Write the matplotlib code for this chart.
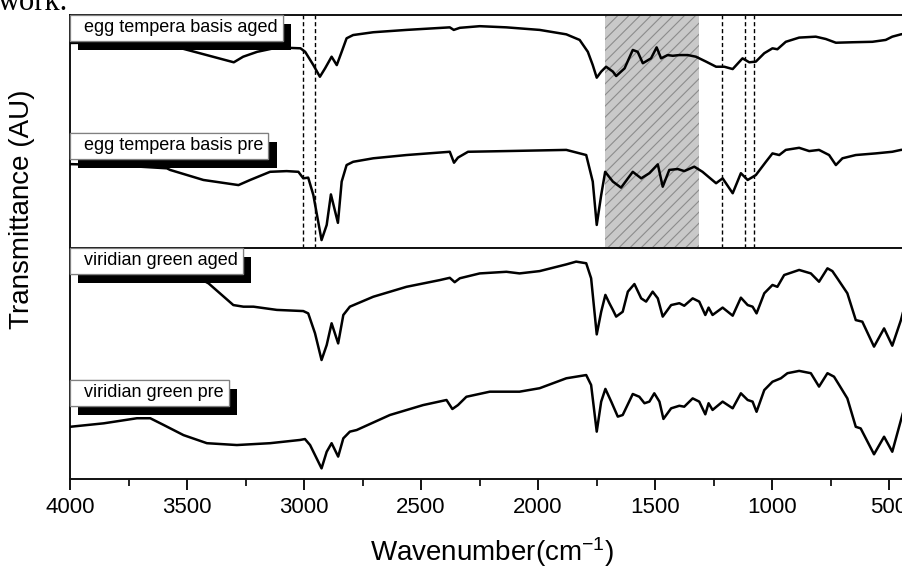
import matplotlib
matplotlib.use('Agg')
import matplotlib.pyplot as plt
from matplotlib import patheffects as pe
from matplotlib.ticker import MultipleLocator

plt.rcParams['font.family'] = ['Liberation Sans', 'DejaVu Sans']
plt.rcParams['mathtext.fontset'] = 'custom'
plt.rcParams['mathtext.rm'] = 'Liberation Sans'
plt.rcParams['mathtext.it'] = 'Liberation Sans'
plt.rcParams['hatch.linewidth'] = 0.8

# ---------------- data ----------------
egg_aged_wn = [4000, 3750, 3550, 3300, 3260, 3200, 3130, 3090, 3015, 2995, 2960, 2932, 2910, 2882,
               2860, 2839, 2818, 2790, 2704, 2562, 2377, 2360, 2334, 2249, 2135, 1993, 1879, 1822,
               1787, 1766, 1749, 1730, 1709, 1680, 1666, 1630, 1595, 1574, 1552, 1517, 1493, 1474,
               1446, 1424, 1396, 1360, 1325, 1282, 1239, 1204, 1168, 1126, 1097, 1069, 1033, 998,
               977, 941, 884, 813, 770, 727, 657, 571, 514, 486, 449, 400]
egg_aged_t = [88.0, 88.3, 86.4, 79.7, 82.1, 84.2, 85.7, 86.0, 85.7, 84.2, 78.5, 73.5, 77.1, 82.1,
              78.5, 84.2, 90.0, 91.4, 92.6, 93.6, 94.7, 93.6, 94.5, 95.2, 94.7, 93.6, 91.7, 89.3,
              84.2, 78.5, 73.1, 75.7, 77.8, 75.7, 73.8, 77.1, 85.0, 84.2, 79.3, 81.4, 86.1, 81.4,
              82.8, 82.5, 82.8, 82.8, 82.1, 80.0, 77.8, 77.8, 76.8, 81.4, 79.7, 80.0, 83.6, 85.7,
              85.3, 88.5, 90.3, 90.7, 89.7, 88.1, 88.3, 88.5, 89.3, 90.7, 91.7, 92.5]

egg_pre_wn = [4000, 3800, 3586, 3572, 3430, 3280, 3230, 3145, 3074, 3024, 3003, 2982, 2960, 2925,
              2903, 2885, 2855, 2839, 2818, 2790, 2704, 2562, 2377, 2359, 2342, 2299, 2135, 1879,
              1794, 1766, 1749, 1730, 1713, 1680, 1645, 1595, 1559, 1524, 1488, 1467, 1439, 1403,
              1375, 1332, 1297, 1239, 1211, 1168, 1133, 1104, 1069, 1026, 998, 969, 941, 884,
              841, 799, 756, 727, 699, 642, 557, 486, 449, 400]
egg_pre_t = [36.0, 35.5, 34.2, 33.5, 29.2, 27.0, 29.2, 32.7, 33.0, 32.7, 29.9, 30.2, 22.7, 3.4,
             9.9, 23.0, 10.8, 28.5, 35.6, 37.0, 38.5, 39.9, 41.3, 36.6, 38.8, 41.3, 41.6, 42.1,
             39.9, 28.5, 9.9, 22.7, 32.7, 28.5, 25.9, 32.7, 29.9, 32.1, 35.9, 26.3, 33.5, 33.9,
             33.0, 34.9, 32.7, 27.8, 29.9, 23.5, 32.1, 29.2, 31.3, 37.0, 40.6, 39.9, 42.1, 43.0,
             41.6, 42.1, 39.9, 35.6, 38.5, 39.9, 40.6, 41.3, 42.1, 42.5]

vir_aged_wn = [4000, 3700, 3560, 3408, 3302, 3259, 3216, 3116, 3003, 2982, 2953, 2925, 2903, 2882,
               2854, 2832, 2804, 2704, 2562, 2420, 2377, 2356, 2334, 2249, 2135, 2079, 1993, 1879,
               1837, 1794, 1773, 1749, 1730, 1712, 1695, 1680, 1666, 1638, 1616, 1588, 1559, 1538,
               1510, 1488, 1467, 1431, 1396, 1375, 1339, 1311, 1285, 1271, 1254, 1211, 1168, 1133,
               1104, 1083, 1066, 1033, 998, 977, 948, 884, 834, 799, 763, 742, 721, 678, 642, 614,
               564, 521, 486, 449, 420]
vir_aged_t = [96.0, 95.0, 93.0, 84.7, 75.3, 74.6, 74.6, 73.2, 72.7, 71.7, 63.1, 51.5, 58.0, 67.4,
              58.7, 71.0, 74.6, 78.9, 83.2, 86.1, 87.1, 85.2, 86.9, 89.0, 89.7, 89.0, 90.0, 92.9,
              94.1, 93.4, 86.9, 62.6, 72.4, 79.7, 76.1, 73.2, 70.3, 72.4, 81.1, 84.4, 78.2, 76.8,
              81.1, 78.2, 70.3, 75.3, 76.1, 75.0, 78.2, 76.8, 71.0, 74.2, 71.0, 74.2, 70.7, 78.5,
              75.3, 74.6, 71.7, 80.4, 84.0, 83.2, 88.3, 90.5, 89.0, 85.4, 91.2, 90.0, 86.9, 80.4,
              68.8, 68.1, 57.3, 65.2, 57.7, 68.8, 80.0]

vir_pre_wn = [4000, 3856, 3714, 3657, 3600, 3515, 3415, 3287, 3145, 3017, 2996, 2974, 2925, 2903,
              2882, 2854, 2832, 2804, 2775, 2633, 2491, 2391, 2366, 2342, 2306, 2206, 2079, 1993,
              1879, 1794, 1773, 1749, 1730, 1712, 1687, 1659, 1638, 1595, 1567, 1545, 1524, 1503,
              1481, 1464, 1431, 1396, 1375, 1339, 1311, 1285, 1271, 1254, 1211, 1168, 1133, 1104,
              1083, 1066, 1033, 998, 962, 934, 884, 834, 799, 763, 735, 713, 678, 642, 621, 564,
              521, 486, 449, 420]
vir_pre_t = [22.6, 24.1, 26.3, 26.3, 23.4, 19.0, 15.5, 14.7, 15.5, 16.9, 17.3, 14.7, 4.6, 11.8,
             15.5, 9.7, 17.6, 20.5, 21.2, 27.7, 32.0, 34.2, 30.3, 32.0, 35.6, 37.8, 37.8, 39.3,
             43.6, 45.0, 40.7, 20.5, 33.5, 39.0, 33.5, 27.0, 27.7, 36.8, 35.6, 32.8, 33.5, 37.1,
             33.5, 26.0, 30.6, 31.7, 31.3, 34.9, 33.5, 28.0, 32.8, 29.9, 33.5, 30.6, 37.1, 34.2,
             33.5, 29.1, 38.5, 42.1, 43.6, 45.8, 46.8, 45.8, 40.0, 45.8, 44.3, 40.7, 34.9, 22.6,
             21.9, 10.7, 18.3, 11.8, 25.5, 36.0]

dashed_wn = [3003, 2953, 1214, 1116, 1077]
hatch_range = (1713, 1311)
x_major = [4000, 3500, 3000, 2500, 2000, 1500, 1000, 500]

labels_top = ['egg tempera basis aged', 'egg tempera basis pre']
labels_bot = ['viridian green aged', 'viridian green pre']

# ---------------- figure ----------------
W, H = 902, 570
fig = plt.figure(figsize=(W / 100, H / 100), dpi=100)

def fy(py):
    return 1 - py / H

left = 70 / W
width = 3600 * 0.234 / W
ax_top = fig.add_axes([left, fy(248), width, (248 - 15) / H])
ax_bot = fig.add_axes([left, fy(479), width, (479 - 248) / H], sharex=ax_top)

for ax in (ax_top, ax_bot):
    ax.set_xlim(4000, 400)
    ax.set_ylim(0, 100)
    ax.set_yticks([])
    for s in ax.spines.values():
        s.set_linewidth(1.4)
        s.set_color('#111111')

lw = 1.8
for ax, xs, ys in ((ax_top, egg_aged_wn, egg_aged_t), (ax_top, egg_pre_wn, egg_pre_t),
                   (ax_bot, vir_aged_wn, vir_aged_t), (ax_bot, vir_pre_wn, vir_pre_t)):
    ax.plot(xs, ys, color='black', lw=lw, zorder=3, solid_joinstyle='round',
            solid_capstyle='round')

ax_top.axvspan(hatch_range[0], hatch_range[1], facecolor='#c9c9c9', edgecolor='#8c8c8c',
               hatch='///', linewidth=0, zorder=1)
for w in dashed_wn:
    ax_top.axvline(w, color='black', lw=1.0, linestyle=(0, (3, 2)), zorder=2)

# ticks
ax_top.tick_params(axis='x', which='both', bottom=False, labelbottom=False)
ax_bot.set_xticks(x_major)
ax_bot.xaxis.set_minor_locator(MultipleLocator(250))
ax_bot.tick_params(axis='x', which='major', direction='out', length=8, width=1.3,
                   labelsize=16, pad=5)
ax_bot.tick_params(axis='x', which='minor', direction='out', length=5, width=1.2)

# labels with shadow boxes
def add_label(ax, text, ytop):
    pad_pt = 3.2
    t = ax.annotate('  ' + text, xy=(0, ytop), xycoords='axes fraction',
                    xytext=(pad_pt, -pad_pt), textcoords='offset points',
                    ha='left', va='top', fontsize=13, zorder=10, annotation_clip=False,
                    bbox=dict(boxstyle='square,pad=0.25', fc='white', ec='#808080', lw=0.9))
    t.get_bbox_patch().set_path_effects([
        pe.withSimplePatchShadow(offset=(6, -6.5), shadow_rgbFace='black', alpha=1.0),
        pe.Normal()])

add_label(ax_top, labels_top[0], 1.0)
add_label(ax_top, labels_top[1], (248 - 133) / 233)
add_label(ax_bot, labels_bot[0], 1.0)
add_label(ax_bot, labels_bot[1], (479 - 380) / 231)

fig.text(22 / W, fy(209), 'Transmittance (AU)', rotation=90, ha='center', va='center',
         fontsize=20)
fig.text(492 / W, fy(552), 'Wavenumber(cm$^{-1}$)', ha='center', va='center', fontsize=20)

# cropped caption fragment at very top
fig.text(-2 / W, fy(10), 'work.', ha='left', va='baseline', fontsize=22,
         family=['Liberation Serif', 'DejaVu Serif'])

fig.savefig('out.png', dpi=100)
